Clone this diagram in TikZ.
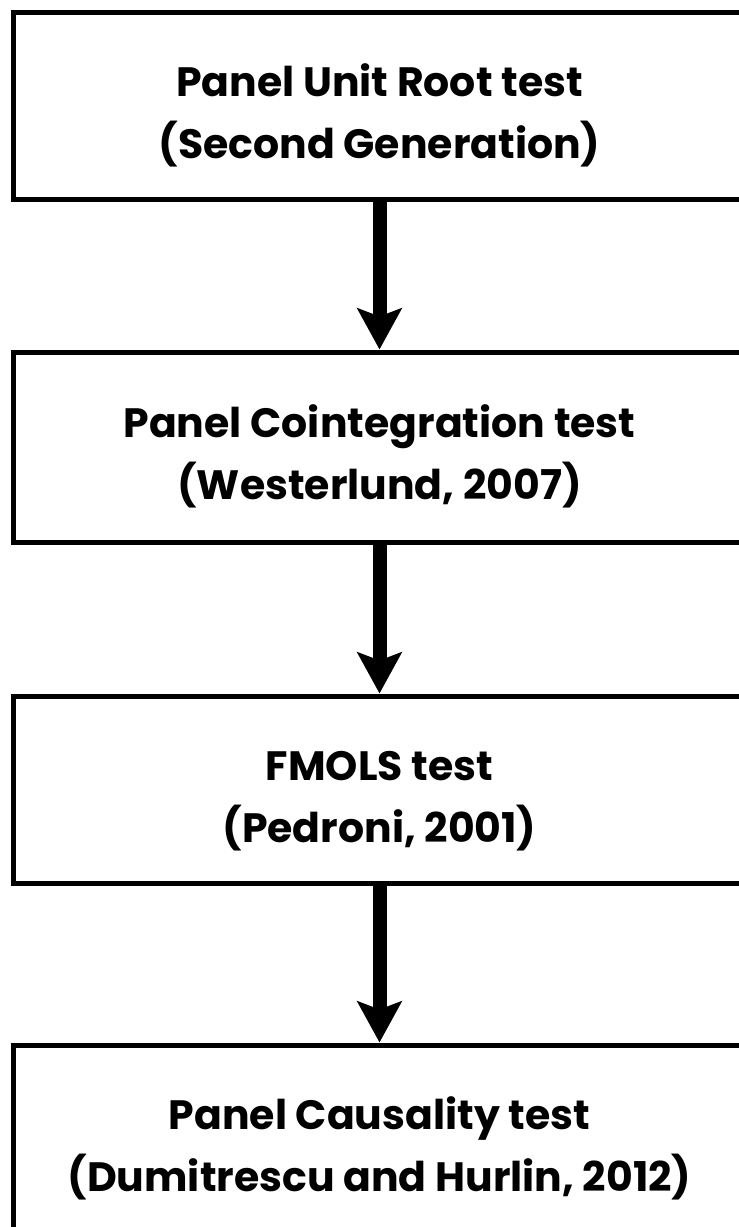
\documentclass[tikz,border=0pt]{standalone}
\usepackage{fontspec}
\setmainfont{Poppins}[BoldFont={Poppins Bold}]
\usetikzlibrary{arrows.meta}
\newcommand{\topstrut}{\rule{0pt}{52pt}}
\tikzset{
  stage/.style={draw=black, line width=5pt, rectangle, minimum width=732pt,
    align=center, inner sep=0pt, font=\fontsize{41}{62}\selectfont\bfseries},
  flow/.style={line width=14pt, -{Stealth[length=41pt,width=44pt,inset=8pt]}}
}
\begin{document}
\begin{tikzpicture}[x=1pt,y=1pt]
\useasboundingbox (0,0) rectangle (739,-1227);
\node[stage, minimum height=187pt] (a) at (379.5,-105.5) {\topstrut Panel Unit Root test\\(Second Generation)};
\node[stage, minimum height=190pt] (b) at (379.5,-447) {\topstrut Panel Cointegration test\\(Westerlund, 2007)};
\node[stage, minimum height=187pt] (c) at (379.5,-789.5) {\topstrut FMOLS test\\(Pedroni, 2001)};
\node[stage, minimum height=188pt] (d) at (379.5,-1139) {\topstrut Panel Causality test\\(Dumitrescu and Hurlin, 2012)};
\draw[flow] (a.south) -- (b.north);
\draw[flow] (b.south) -- (c.north);
\draw[flow] (c.south) -- (d.north);
\end{tikzpicture}
\end{document}
